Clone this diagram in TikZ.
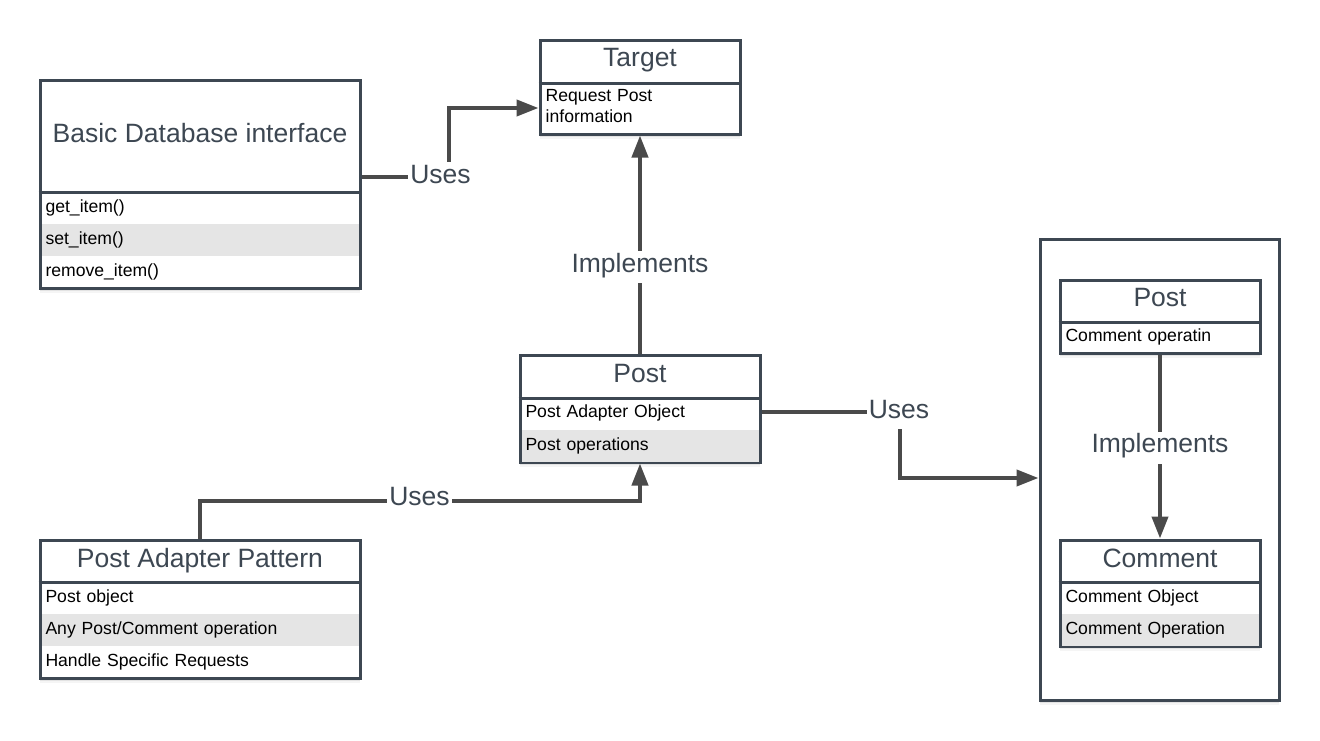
\documentclass[tikz,border=0pt]{standalone}
\usepackage{fontspec}
\setmainfont{Liberation Sans}
\usetikzlibrary{arrows.meta,shadows}
\definecolor{slate}{HTML}{3D4752}
\definecolor{ink}{HTML}{4A4A4A}
\definecolor{band}{HTML}{E5E5E5}
\newcommand\headfont{\fontsize{26.5}{30}\selectfont}
\newcommand\rowfont{\fontsize{17.6}{21}\selectfont}
\begin{document}
\begin{tikzpicture}[x=1pt,y=-1pt,
  boxframe/.style={draw=slate,line width=3pt,fill=white,inner sep=0pt,
    general shadow={fill=black,opacity=0.04,shadow yshift=-5pt},
    general shadow={fill=black,opacity=0.07,shadow yshift=-2.5pt}},
  heading/.style={anchor=base,inner sep=0pt,text=slate,font=\headfont},
  member/.style={inner xsep=4pt,inner ysep=0pt,minimum height=32pt,
    text height=8pt,text depth=0pt,align=left,font=\rowfont,text=black},
  shaded/.style={fill=band},
  divide/.style={draw=slate,line width=3pt},
  wire/.style={draw=ink,line width=4pt},
  pointer/.style={-{Triangle[length=22pt,width=16pt]}},
  tag/.style={anchor=base,fill=white,inner xsep=2pt,inner ysep=3pt,
    text height=18pt,text depth=8pt,text=slate,font=\headfont}
]
\fill[white] (0,0) rectangle (1320,740);
\useasboundingbox (0,0) rectangle (1320,740);

% Basic Database interface
\node[boxframe,minimum width=320pt,minimum height=208pt] (db) at (200,184) {};
\node[heading] (dbhead) at (200,142) {Basic Database interface};
\draw[divide] (db.west |- 0,192) -- (db.east |- 0,192);
\node[member,text width=309pt] (db1) at (200,208) {get\_item()};
\node[member,shaded,text width=309pt] (db2) at (200,240) {set\_item()};
\node[member,text width=309pt] (db3) at (200,272) {remove\_item()};

% Target
\node[boxframe,minimum width=200pt,minimum height=94pt] (target) at (640,87) {};
\node[heading] (targethead) at (640,66) {Target};
\draw[divide] (target.west |- 0,83) -- (target.east |- 0,83);
\node[anchor=base west,inner xsep=4pt,inner ysep=0pt,text width=189pt,
  align=left,font=\rowfont] (target1) at (541.5,101.5) {Request Post\\information};

% Post (adapter)
\node[boxframe,minimum width=240pt,minimum height=107pt] (mid) at (640,408.5) {};
\node[heading] (midhead) at (640,382) {Post};
\draw[divide] (mid.west |- 0,398) -- (mid.east |- 0,398);
\node[member,text width=229pt] (mid1) at (640,413.5) {Post Adapter Object};
\node[member,shaded,text width=229pt] (mid2) at (640,446) {Post operations};

% Post Adapter Pattern
\node[boxframe,minimum width=320pt,minimum height=138pt] (pap) at (200,609) {};
\node[heading] (paphead) at (200,567) {Post Adapter Pattern};
\draw[divide] (pap.west |- 0,582) -- (pap.east |- 0,582);
\node[member,text width=309pt] (pap1) at (200,598) {Post object};
\node[member,shaded,text width=309pt] (pap2) at (200,630) {Any Post/Comment operation};
\node[member,text width=309pt] (pap3) at (200,662) {Handle Specific Requests};

% Container with Post and Comment
\node[boxframe,minimum width=239pt,minimum height=461pt] (cont) at (1159.5,469.5) {};

\node[boxframe,minimum width=200pt,minimum height=73pt] (ipost) at (1160,316.5) {};
\node[heading] (iposthead) at (1160,306) {Post};
\draw[divide] (ipost.west |- 0,322) -- (ipost.east |- 0,322);
\node[member,text width=189pt] (ipost1) at (1160,337.5) {Comment operatin};

\node[boxframe,minimum width=200pt,minimum height=106pt] (cmt) at (1160,593) {};
\node[heading] (cmthead) at (1160,567) {Comment};
\draw[divide] (cmt.west |- 0,582) -- (cmt.east |- 0,582);
\node[member,text width=189pt] (cmt1) at (1160,598) {Comment Object};
\node[member,shaded,text width=189pt] (cmt2) at (1160,630) {Comment Operation};

% Connectors
\coordinate (bendA) at (449,177);
\coordinate (bendB) at (640,501);
\coordinate (bendC) at (900,412);
\coordinate (bendD) at (900,478);

\draw[wire,pointer] (db.east |- bendA) -- (bendA) |- (target.west |- 0,108);
\draw[wire,pointer] (mid.north) -- (target.south);
\draw[wire,pointer] (pap.north) |- (bendB) -- (mid.south);
\draw[wire,pointer] (mid.east |- bendC) -- (bendC) -- (bendD) -- (cont.west |- bendD);
\draw[wire,pointer] (ipost.south) -- (cmt.north);

% Connector labels
\node[tag] (tagA) at (440.5,183) {Uses};
\node[tag] (tagB) at (640,272) {Implements};
\node[tag] (tagC) at (419.5,505) {Uses};
\node[tag] (tagD) at (899,418) {Uses};
\node[tag] (tagE) at (1160,452.5) {Implements};
\end{tikzpicture}
\end{document}
